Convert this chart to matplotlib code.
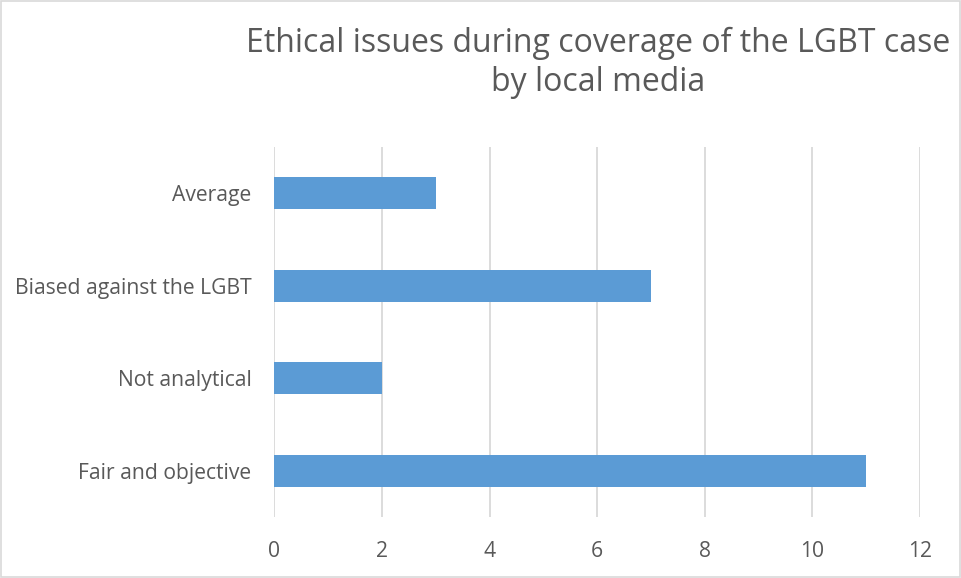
import matplotlib
matplotlib.use("Agg")
import matplotlib.pyplot as plt
from matplotlib.patches import Rectangle

categories = ["Fair and objective", "Not analytical", "Biased against the LGBT", "Average"]
values = [11, 2, 7, 3]
xticks = [0, 2, 4, 6, 8, 10, 12]
title_lines = "Ethical issues during coverage of the LGBT case\nby local media"

TEXT = "#595959"
BAR = "#5B9BD5"
GRID = "#D9D9D9"
FONT = ["Open Sans", "DejaVu Sans"]

plt.rcParams["font.family"] = FONT

fig = plt.figure(figsize=(9.62, 5.78), dpi=100)
fig.patch.set_facecolor("white")
fig.patches.append(Rectangle((0.001, 0.002), 0.997, 0.996, transform=fig.transFigure,
                             fill=False, edgecolor="#D9D9D9", linewidth=1.2))

ax = fig.add_axes([274.5 / 962, 1 - 517 / 578, (920 - 274.5) / 962, (517 - 147) / 578])
ypos = list(range(len(categories)))
ax.barh(ypos, values, height=0.35, color=BAR, zorder=3)
ax.set_xlim(0, 12)
ax.set_ylim(-0.5, len(categories) - 0.5)
ax.set_xticks(xticks)
ax.set_xticklabels([str(t) for t in xticks])
ax.set_yticks(ypos)
ax.set_yticklabels(categories)
ax.grid(axis="x", color=GRID, linewidth=1.3, zorder=0)
for s in ax.spines.values():
    s.set_visible(False)
ax.tick_params(axis="both", length=0, colors=TEXT, labelsize=15.2)
ax.tick_params(axis="x", pad=17)
ax.tick_params(axis="y", pad=16.5)

fig.text(598 / 962, 1 - 63 / 578, title_lines, ha="center", va="center",
         fontsize=23, color=TEXT, linespacing=1.25)

fig.savefig("out.png", dpi=100, facecolor="white")
